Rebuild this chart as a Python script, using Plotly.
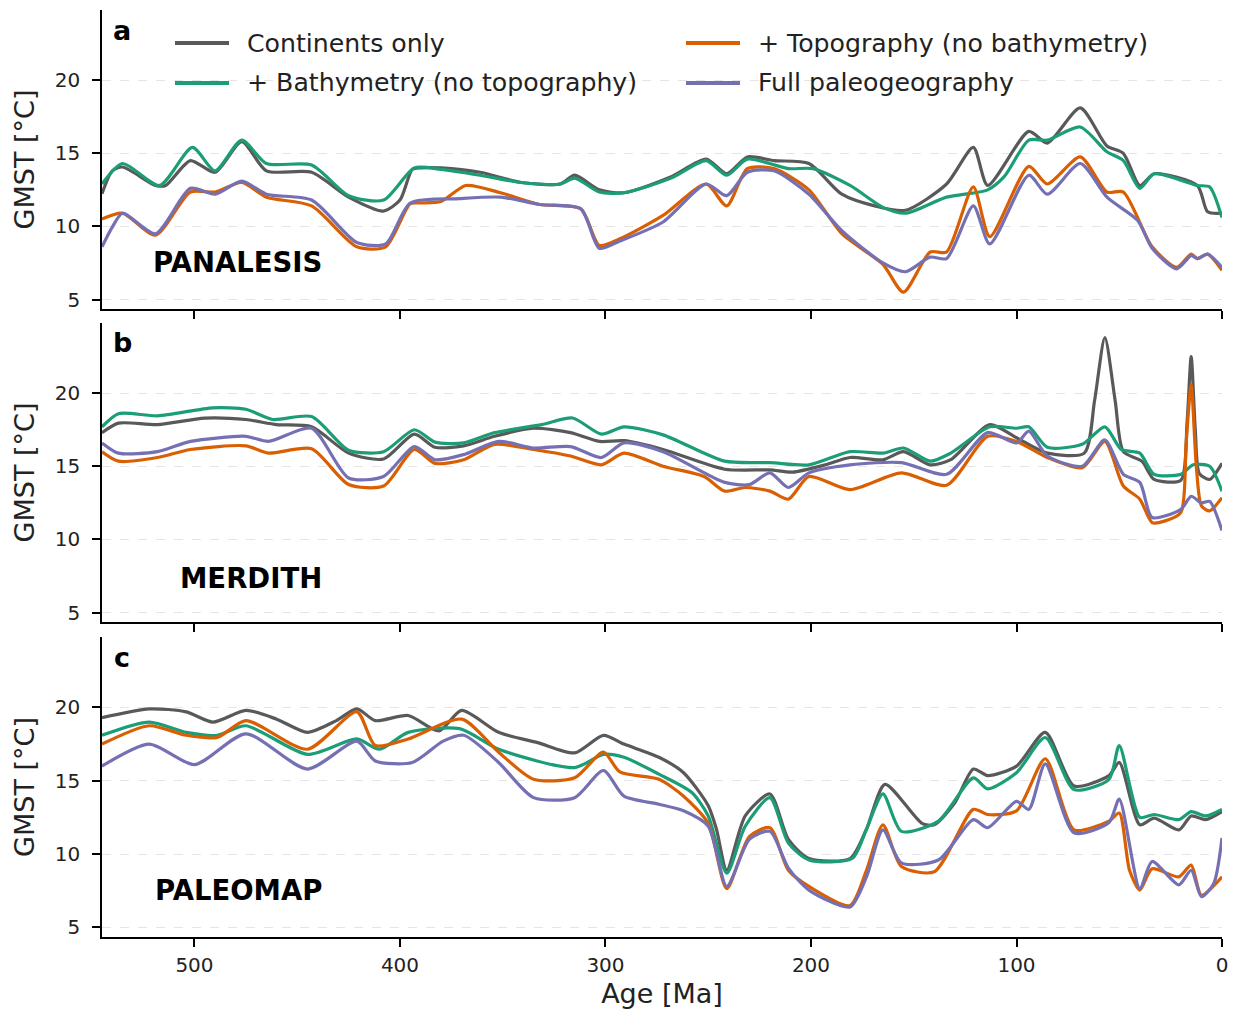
import plotly.graph_objects as go

# ---------------- data (Age [Ma], GMST [°C]) ----------------
SERIES_NAMES = ["Continents only", "+ Bathymetry (no topography)",
                "+ Topography (no bathymetry)", "Full paleogeography"]
COLORS = ["#595959", "#1b9e77", "#d95f02", "#7570b3"]
PANEL_NAMES = ["PANALESIS", "MERDITH", "PALEOMAP"]
PANEL_LETTERS = ["a", "b", "c"]
X_TICKS = [500, 400, 300, 200, 100, 0]
Y_TICKS = [5, 10, 15, 20]

# Panel a: PANALESIS
A_GRAY_AGE = [545, 540, 535, 519, 514, 502, 490, 477, 465, 443, 425, 408, 400, 394, 390, 380, 361, 341, 322, 315, 303,
              291, 268, 251, 241, 231, 218, 201, 185, 169, 154, 134, 121, 114, 94, 85, 69, 56, 48, 40, 33, 12, 7, 0]
A_GRAY = [12.24, 13.8, 14.06, 12.8, 12.8, 14.5, 13.7, 15.8, 13.8, 13.7, 12.0, 11.05, 11.8, 13.9, 14.0, 14.0, 13.7,
          13.0, 12.9, 13.5, 12.5, 12.3, 13.4, 14.6, 13.6, 14.75, 14.5, 14.3, 12.2, 11.4, 11.1, 12.9, 15.4, 12.8, 16.5,
          15.7, 18.1, 15.5, 15.0, 12.8, 13.6, 12.8, 11.0, 10.9]
A_GREEN_AGE = [545, 535, 517, 501, 490, 477, 465, 443, 425, 408, 393, 380, 361, 341, 322, 315, 303, 291, 268, 251,
               241, 231, 211, 199, 181, 165, 154, 134, 114, 106, 94, 85, 69, 56, 48, 40, 33, 12, 6, 0]
A_GREEN = [12.9, 14.3, 12.8, 15.4, 13.8, 15.9, 14.3, 14.2, 12.1, 11.8, 14.0, 13.9, 13.5, 13.0, 12.9, 13.3, 12.35,
           12.3, 13.3, 14.5, 13.5, 14.6, 13.95, 13.95, 12.8, 11.3, 10.9, 12.0, 12.5, 13.4, 15.9, 15.9, 16.8, 15.1,
           14.5, 12.6, 13.6, 12.8, 12.7, 10.6]
A_ORANGE_AGE = [545, 535, 519, 502, 490, 477, 465, 443, 421, 407, 395, 390, 380, 368, 351, 332, 312, 303, 293, 272,
                251, 241, 231, 218, 201, 185, 165, 155, 142, 134, 121, 113, 94, 85, 69, 56, 48, 34, 22, 15, 12, 7, 0]
A_ORANGE = [10.5, 10.9, 9.4, 12.35, 12.35, 13.0, 12.0, 11.4, 8.6, 8.6, 11.55, 11.6, 11.7, 12.8, 12.3, 11.5, 11.2,
            8.7, 9.15, 10.75, 12.9, 11.4, 13.95, 13.95, 12.5, 9.5, 7.4, 5.5, 8.25, 8.25, 12.7, 9.3, 14.1, 12.9, 14.75,
            12.35, 12.35, 8.6, 7.2, 8.1, 7.8, 8.1, 7.0]
A_PURPLE_AGE = [545, 540, 535, 519, 502, 490, 477, 465, 443, 421, 407, 395, 371, 351, 332, 312, 303, 293, 272, 251,
                241, 231, 218, 201, 185, 165, 154, 142, 134, 121, 113, 94, 85, 69, 56, 41, 34, 22, 15, 12, 7, 0]
A_PURPLE = [8.6, 9.95, 10.9, 9.5, 12.6, 12.2, 13.1, 12.2, 11.8, 8.9, 8.8, 11.6, 11.9, 12.0, 11.5, 11.2, 8.5, 9.0,
            10.3, 12.9, 12.1, 13.7, 13.8, 12.2, 9.7, 7.5, 6.9, 7.9, 7.8, 11.4, 8.8, 13.5, 12.2, 14.3, 12.0, 10.4, 8.5,
            7.1, 8.0, 7.8, 8.1, 7.2]

# Panel b: MERDITH
B_GRAY_AGE = [545, 537, 518, 495, 475, 460, 443, 425, 408, 393, 383, 369, 354, 335, 317, 303, 291, 272, 242, 220,
              209, 193, 181, 165, 155, 142, 132, 113, 100, 85, 67, 62, 57, 52, 48, 39, 33, 20, 17, 15, 13, 11, 6, 0]
B_GRAY = [17.3, 17.95, 17.85, 18.3, 18.2, 17.85, 17.7, 15.9, 15.5, 17.2, 16.3, 16.4, 17.05, 17.6, 17.3, 16.7, 16.75,
          16.15, 14.8, 14.75, 14.6, 15.1, 15.6, 15.45, 16.0, 15.1, 15.45, 17.85, 16.95, 15.9, 15.9, 19.5, 23.8, 19.5,
          16.0, 15.35, 14.1, 14.05, 18.0, 22.5, 17.5, 14.5, 14.1, 15.2]
B_GREEN_AGE = [545, 537, 518, 491, 475, 462, 443, 425, 408, 393, 383, 369, 354, 331, 316, 302, 291, 272, 242, 220,
               201, 181, 165, 155, 142, 132, 113, 100, 94, 85, 68, 57, 49, 40, 33, 20, 14, 6, 0]
B_GREEN = [17.7, 18.6, 18.45, 19.0, 18.9, 18.2, 18.4, 16.1, 16.0, 17.5, 16.65, 16.6, 17.3, 17.85, 18.3, 17.2, 17.7,
           17.15, 15.35, 15.25, 15.1, 16.0, 15.9, 16.25, 15.35, 15.9, 17.7, 17.6, 17.7, 16.3, 16.5, 17.7, 16.15, 15.9,
           14.45, 14.45, 15.1, 15.0, 13.3]
B_ORANGE_AGE = [545, 537, 518, 502, 475, 464, 443, 425, 408, 393, 383, 369, 354, 335, 317, 302, 291, 272, 252, 242,
                232, 220, 211, 201, 181, 156, 134, 114, 100, 85, 68, 57, 48, 40, 34, 28, 20, 17.5, 15, 12.5, 10, 6, 0]
B_ORANGE = [16.0, 15.35, 15.6, 16.15, 16.4, 15.9, 16.2, 13.75, 13.65, 16.15, 15.2, 15.45, 16.5, 16.15, 15.7, 15.1,
            15.9, 15.0, 14.3, 13.3, 13.55, 13.3, 12.75, 14.3, 13.4, 14.55, 13.7, 17.05, 16.7, 15.6, 14.9, 16.7, 13.65,
            12.75, 11.15, 11.25, 11.85, 16.5, 20.55, 15.0, 12.3, 11.95, 12.85]
B_PURPLE_AGE = [545, 537, 518, 502, 475, 464, 443, 425, 408, 393, 383, 369, 352, 335, 317, 302, 291, 272, 242, 230,
                220, 211, 201, 181, 156, 134, 114, 100, 94, 85, 68, 57, 48, 40, 34, 20, 15, 10, 6, 0]
B_PURPLE = [16.6, 15.9, 16.0, 16.7, 17.05, 16.7, 17.6, 14.2, 14.3, 16.35, 15.45, 15.8, 16.7, 16.25, 16.35, 15.6,
            16.6, 16.0, 13.9, 13.75, 14.55, 13.55, 14.55, 15.1, 15.25, 14.45, 17.3, 16.6, 17.4, 15.7, 15.0, 16.8,
            14.45, 13.9, 11.5, 12.05, 12.95, 12.5, 12.6, 10.6]

# Panel c: PALEOMAP
C_GRAY_AGE = [545, 522, 504, 491, 475, 460, 445, 431, 421, 412, 396, 381, 370, 352, 333, 315, 301, 291, 274, 262,
              250, 246, 241, 232, 220, 211, 201, 181, 173, 164, 146, 140, 130, 121, 114, 100, 86, 72, 55, 50, 40, 33,
              21, 15, 8, 0]
C_GRAY = [19.3, 19.9, 19.7, 19.0, 19.8, 19.2, 18.3, 19.1, 19.9, 19.1, 19.45, 18.4, 19.8, 18.3, 17.6, 16.9, 18.1,
          17.5, 16.6, 15.55, 13.3, 11.7, 8.9, 12.6, 14.1, 11.0, 9.7, 9.7, 11.7, 14.75, 12.1, 12.0, 13.5, 15.8, 15.35,
          16.0, 18.3, 14.65, 15.35, 16.25, 12.0, 12.45, 11.65, 12.6, 12.35, 12.9]
C_GREEN_AGE = [545, 522, 504, 489, 475, 445, 421, 410, 396, 371, 352, 315, 301, 291, 274, 258, 250, 241, 232, 220,
               211, 201, 180, 173, 165, 156, 138, 121, 114, 100, 86, 72, 55, 50, 40, 33, 21, 15, 8, 0]
C_GREEN = [18.1, 19.0, 18.3, 18.1, 18.75, 16.8, 17.85, 17.15, 18.3, 18.55, 17.15, 15.9, 16.8, 16.6, 15.45, 14.2,
           12.6, 8.7, 11.9, 13.85, 10.75, 9.6, 9.7, 11.7, 14.1, 11.55, 12.25, 15.2, 14.45, 15.55, 17.95, 14.4, 15.1,
           17.4, 12.5, 12.7, 12.35, 12.9, 12.6, 13.05]
C_ORANGE_AGE = [545, 522, 504, 489, 475, 445, 421, 412, 396, 370, 352, 335, 315, 301, 293, 274, 262, 250, 241, 230,
                220, 211, 201, 181, 173, 165, 156, 140, 121, 114, 100, 86, 72, 55, 50, 45, 40, 34, 21, 15, 10, 0]
C_ORANGE = [17.5, 18.75, 18.1, 17.95, 19.1, 17.15, 19.7, 17.4, 17.85, 19.2, 16.95, 15.1, 15.2, 16.95, 15.6, 15.1,
            13.95, 12.1, 7.65, 11.2, 11.8, 8.9, 7.8, 6.5, 8.9, 12.0, 9.15, 8.8, 13.05, 12.7, 12.95, 16.5, 11.65,
            12.25, 12.8, 8.9, 7.55, 9.0, 8.45, 9.25, 7.2, 8.45]
C_PURPLE_AGE = [545, 522, 500, 475, 445, 421, 412, 394, 379, 369, 352, 335, 315, 301, 291, 274, 262, 250, 241, 230,
                220, 211, 201, 181, 173, 165, 156, 138, 121, 114, 100, 94, 86, 72, 55, 50, 40, 34, 21, 15, 10, 4, 0]
C_PURPLE = [16.0, 17.5, 16.1, 18.2, 15.8, 17.7, 16.35, 16.25, 17.7, 18.1, 16.25, 13.85, 13.85, 15.7, 13.95, 13.4,
            12.95, 11.9, 7.8, 11.0, 11.55, 9.05, 7.55, 6.4, 8.45, 11.65, 9.4, 9.6, 12.35, 11.8, 13.6, 13.05, 16.15,
            11.45, 12.15, 13.75, 7.65, 9.5, 7.9, 8.9, 7.1, 8.0, 11.1]

PANELS = [
    [(A_GRAY_AGE, A_GRAY), (A_GREEN_AGE, A_GREEN), (A_ORANGE_AGE, A_ORANGE), (A_PURPLE_AGE, A_PURPLE)],
    [(B_GRAY_AGE, B_GRAY), (B_GREEN_AGE, B_GREEN), (B_ORANGE_AGE, B_ORANGE), (B_PURPLE_AGE, B_PURPLE)],
    [(C_GRAY_AGE, C_GRAY), (C_GREEN_AGE, C_GREEN), (C_ORANGE_AGE, C_ORANGE), (C_PURPLE_AGE, C_PURPLE)],
]

# ---------------- layout helpers ----------------
W, H = 1233, 1017
ML, MR, MT, MB = 102, 11, 10, 80
PW, PH = W - ML - MR, H - MT - MB
FONT = "DejaVu Sans"


def fx(x):
    return (x - ML) / PW


def fy(y):
    return (H - MB - y) / PH


PANEL_PX = [(10, 309), (323, 622), (637, 937)]

fig = go.Figure()
for p, series in enumerate(PANELS):
    sfx = "" if p == 0 else str(p + 1)
    for s, (ages, vals) in enumerate(series):
        fig.add_trace(go.Scatter(
            x=ages, y=vals, mode="lines", name=SERIES_NAMES[s],
            line=dict(color=COLORS[s], width=3.2, shape="spline", smoothing=0.7),
            xaxis="x" + sfx, yaxis="y" + sfx, showlegend=False,
            hoverinfo="skip"))

layout = dict(
    width=W, height=H, margin=dict(l=ML, r=MR, t=MT, b=MB, autoexpand=False),
    plot_bgcolor="white", paper_bgcolor="white",
    font=dict(family=FONT, color="#222222"),
    showlegend=False,
)
for p in range(3):
    sfx = "" if p == 0 else str(p + 1)
    top, bot = PANEL_PX[p]
    layout["xaxis" + sfx] = dict(
        domain=[0, 1], anchor="y" + sfx, range=[545, 0], automargin=False,
        tickvals=X_TICKS, ticktext=[str(v) for v in X_TICKS],
        showticklabels=(p == 2), ticks="outside", ticklen=8, tickwidth=1.5, tickcolor="#000",
        showline=True, linecolor="#000", linewidth=1.5, showgrid=False, zeroline=False,
        tickfont=dict(size=20, family=FONT, color="#222"),
        ticklabelstandoff=1,
        matches="x" if p else None,
        title=dict(text="Age [Ma]", font=dict(size=27, family=FONT, color="#222"), standoff=8) if p == 2 else None,
    )
    layout["yaxis" + sfx] = dict(
        domain=[fy(bot), fy(top)], anchor="x" + sfx, range=[4.35, 24.8], automargin=False,
        tickvals=Y_TICKS, ticks="outside", ticklen=8, tickwidth=1.5, tickcolor="#000",
        showline=True, linecolor="#000", linewidth=1.5, zeroline=False,
        showgrid=True, gridcolor="#e5e5e5", gridwidth=1, griddash="dash",
        tickfont=dict(size=20, family=FONT, color="#222"),
        ticklabelstandoff=8,
        title=dict(text="GMST [°C]", font=dict(size=27, family=FONT, color="#222"), standoff=12),
    )
fig.update_layout(**layout)

annotations = []
LETTER_Y = [30, 342, 657]
NAME_Y = [262, 578, 890]
for p in range(3):
    annotations.append(dict(xref="paper", yref="paper", x=fx(122), y=fy(LETTER_Y[p]),
                            text="<b>%s</b>" % PANEL_LETTERS[p], showarrow=False,
                            xanchor="center", yanchor="middle",
                            font=dict(size=27, family=FONT, color="#000")))
    annotations.append(dict(xref="paper", yref="paper", x=fx(324), y=fy(NAME_Y[p]),
                            text="<b>%s</b>" % PANEL_NAMES[p], showarrow=False,
                            xanchor="right", yanchor="middle",
                            font=dict(size=27.5, family=FONT, color="#000")))

# manual legend (2 columns, column-major order as in the reference)
LEG_POS = [(175, 43), (175, 83), (686, 43), (686, 83)]
shapes = []
for s, (lx, ly) in enumerate(LEG_POS):
    shapes.append(dict(type="line", xref="paper", yref="paper",
                       x0=fx(lx), x1=fx(lx + 54), y0=fy(ly), y1=fy(ly),
                       line=dict(color=COLORS[s], width=4)))
    annotations.append(dict(xref="paper", yref="paper", x=fx(lx + 70), y=fy(ly),
                            text=SERIES_NAMES[s], showarrow=False,
                            xanchor="left", yanchor="middle",
                            font=dict(size=25.2, family=FONT, color="#222")))

fig.update_layout(annotations=annotations, shapes=shapes)
fig.write_html("out.html")
